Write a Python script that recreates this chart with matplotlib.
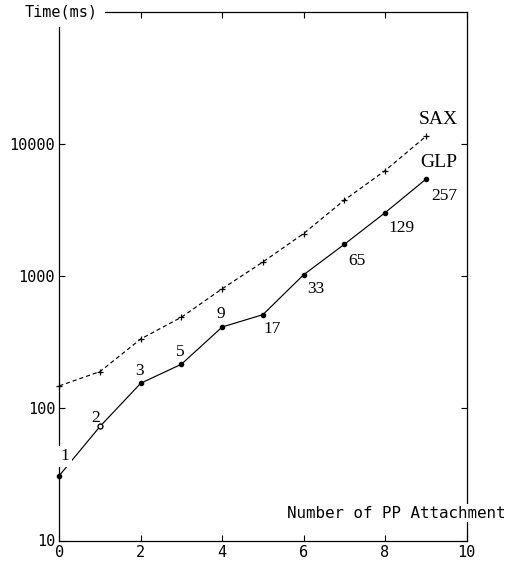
import matplotlib
matplotlib.use("Agg")
import matplotlib.pyplot as plt
from matplotlib.ticker import FixedLocator, NullLocator

# Data
x_vals = [0, 1, 2, 3, 4, 5, 6, 7, 8, 9]
glp_ms = [31, 73, 155, 216, 413, 512, 1026, 1745, 3025, 5420]
sax_ms = [148, 190, 335, 490, 804, 1282, 2105, 3770, 6300, 11430]
glp_point_labels = ["1", "2", "3", "5", "9", "17", "33", "65", "129", "257"]
x_ticks = [0, 2, 4, 6, 8, 10]
y_ticks = [10, 100, 1000, 10000]
y_tick_labels = ["10", "100", "1000", "10000"]

# label offsets (points) relative to each GLP point
label_offsets = [(4, 14), (-3, 6), (-1, 9), (-1, 9), (-1, 9), (7, -10), (9, -10), (9, -12), (12, -11), (13, -12)]

fig = plt.figure(figsize=(5.15, 5.62), dpi=100)
ax = fig.add_axes([59.3 / 515, 1 - 540.5 / 562, (466.5 - 59.3) / 515, (540.5 - 12) / 562])
ax.set_yscale("log")
ax.set_xlim(0, 10)
ax.set_ylim(10, 1e5)

mono = "DejaVu Sans Mono"
serif = "Liberation Serif"

ax.plot(x_vals, sax_ms, color="black", lw=0.85, ls=(0, (3.5, 2.5)),
        marker="+", ms=4, mew=0.9, clip_on=False)
ax.plot(x_vals, glp_ms, color="black", lw=0.85, marker="o", ms=3,
        mfc="black", mec="black", clip_on=False, zorder=3)
# open marker at x=1
ax.plot([x_vals[1]], [glp_ms[1]], ls="none", marker="o", ms=3.5, mfc="white",
        mec="black", mew=0.9, zorder=4)

for i, (xv, yv, lab) in enumerate(zip(x_vals, glp_ms, glp_point_labels)):
    dx, dy = label_offsets[i]
    kw = {}
    if i == 0:
        kw["bbox"] = dict(boxstyle="square,pad=0.15", fc="white", ec="none")
    ax.annotate(lab, (xv, yv), xytext=(dx, dy), textcoords="offset points",
                ha="center", va="center", fontsize=12.5, family=serif,
                zorder=5, **kw)

ax.annotate("SAX", (x_vals[-1], sax_ms[-1]), xytext=(9, 12), textcoords="offset points",
            ha="center", va="center", fontsize=14, family=serif)
ax.annotate("GLP", (x_vals[-1], glp_ms[-1]), xytext=(9, 12), textcoords="offset points",
            ha="center", va="center", fontsize=14, family=serif)

# ticks
ax.xaxis.set_major_locator(FixedLocator(x_ticks))
ax.yaxis.set_major_locator(FixedLocator(y_ticks))
ax.yaxis.set_minor_locator(NullLocator())
ax.set_yticklabels(y_tick_labels)
ax.set_xticklabels([str(t) for t in x_ticks])
ax.tick_params(axis="both", which="major", direction="in", length=4, width=0.8,
               top=True, right=True, labelsize=11, pad=3)
for lab in ax.get_xticklabels() + ax.get_yticklabels():
    lab.set_family(mono)
for sp in ax.spines.values():
    sp.set_linewidth(0.9)

ax.text(0.093, 1.0, "Time(ms)", transform=ax.transAxes, ha="right", va="center",
        fontsize=11, family=mono,
        bbox=dict(boxstyle="square,pad=0.5", fc="white", ec="none"), clip_on=False, zorder=10)
ax.text(1.095, 0.052, "Number of PP Attachment", transform=ax.transAxes, ha="right",
        va="center", fontsize=11.4, family=mono,
        bbox=dict(boxstyle="square,pad=0.1", fc="white", ec="none"), clip_on=False, zorder=10)

fig.savefig("out.png", dpi=100)
